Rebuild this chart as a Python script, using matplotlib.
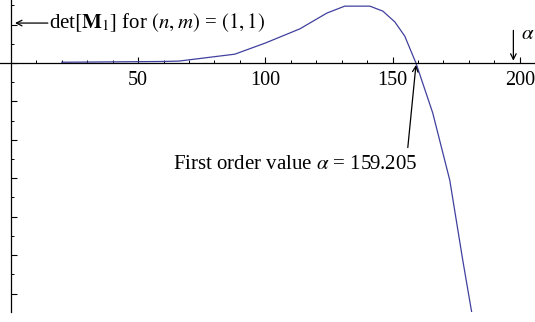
import matplotlib
matplotlib.use("Agg")
from matplotlib import pyplot as plt
from matplotlib.ticker import MultipleLocator, NullFormatter

# curve (y in units of one major y tick)
alpha = [20, 40, 60, 66, 88, 100, 113.6, 124.2, 131.2, 141.1, 146.2, 150.9, 154.8, 159.205, 165.8, 172.5, 177.6, 181.1]
det_m1 = [0.02, 0.03, 0.04, 0.05, 0.23, 0.52, 0.89, 1.30, 1.48, 1.48, 1.35, 1.07, 0.70, 0.0, -1.30, -3.05, -5.13, -6.48]
xticks = [50, 100, 150, 200]
root = 159.205

plt.rcParams['mathtext.fontset'] = 'stix'
plt.rcParams['font.family'] = 'Liberation Serif'

fig = plt.figure(figsize=(5.35, 3.22), dpi=100)
ax = fig.add_axes([0, 10 / 322, 1, 312 / 322])
ax.plot(alpha, det_m1, color=(0.25, 0.25, 0.62), lw=0.9)

ax.set_xlim(-4.3, 206)
ax.set_ylim(-6.48, 1.64)
ax.spines['left'].set_position(('data', 0))
ax.spines['bottom'].set_position(('data', 0))
ax.spines['top'].set_visible(False)
ax.spines['right'].set_visible(False)
ax.spines['left'].set_linewidth(0.9)
ax.spines['bottom'].set_linewidth(0.9)

ax.set_xticks(xticks)
ax.xaxis.set_minor_locator(MultipleLocator(10))
ax.yaxis.set_major_locator(MultipleLocator(1))
ax.yaxis.set_minor_locator(MultipleLocator(0.5))
ax.yaxis.set_major_formatter(NullFormatter())
ax.tick_params(axis='x', which='major', direction='in', length=4.5, width=0.8, pad=6, labelsize=14.5)
ax.tick_params(axis='x', which='minor', direction='in', length=2.5, width=0.7)
ax.tick_params(axis='y', which='major', direction='in', length=4, width=0.8)
ax.tick_params(axis='y', which='minor', direction='in', length=2.5, width=0.7)

# left label with arrow
ax.annotate('', xy=(1.6, 1.04), xytext=(14.5, 1.04),
            arrowprops=dict(arrowstyle='->', lw=0.9, color='black', shrinkA=0, shrinkB=0))
ax.text(14.8, 1.04, r'det$[\mathbf{M}_1]$ for $(n, m)$ = $(1, 1)$', fontsize=15, va='center', ha='left')

# alpha axis label
ax.annotate('', xy=(197.5, 0.06), xytext=(197.5, 0.85),
            arrowprops=dict(arrowstyle='->', lw=0.9, color='black', shrinkA=0, shrinkB=0))
ax.text(200.5, 0.75, r'$\alpha$', fontsize=15, va='center', ha='left')

# root annotation
ax.annotate('', xy=(root, -0.05), xytext=(156, -2.2),
            arrowprops=dict(arrowstyle='->', lw=0.9, color='black', shrinkA=0, shrinkB=0))
ax.text(159.8, -2.65, r'First order value $\alpha$ = 159.205', fontsize=15, va='center', ha='right')

fig.savefig('out.png', dpi=100)
